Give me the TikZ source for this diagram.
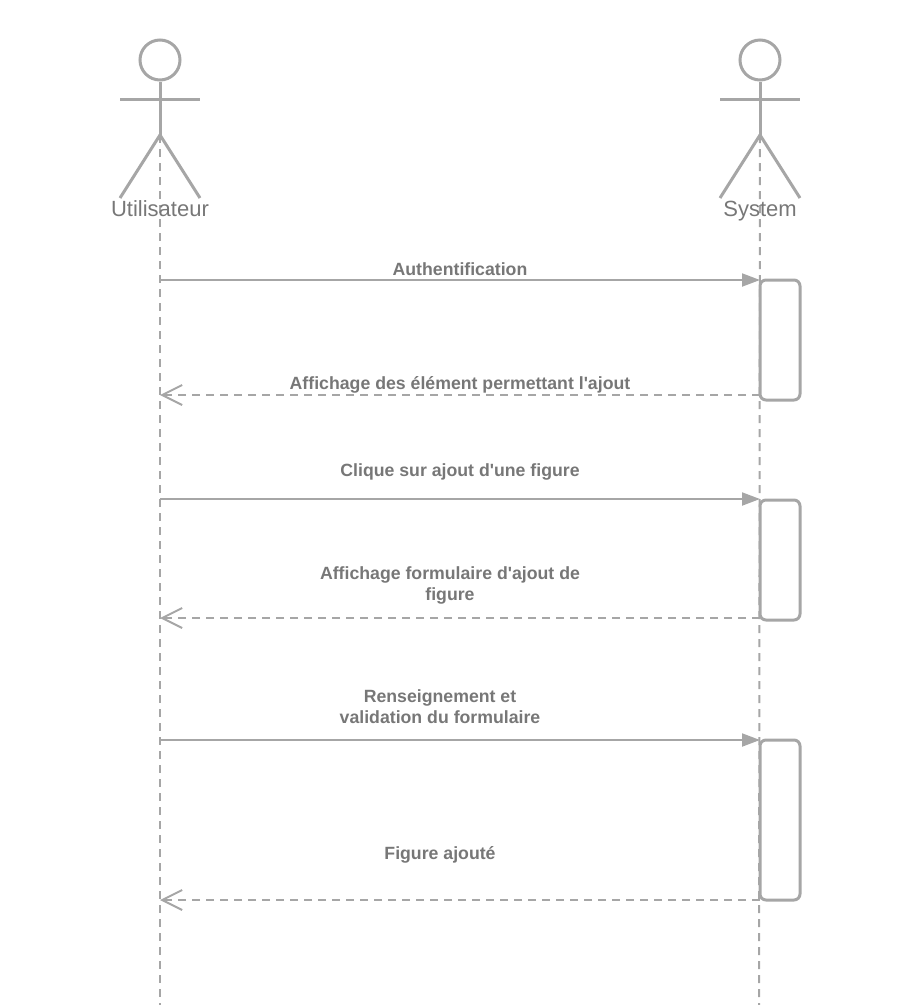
\documentclass[tikz,border=0pt]{standalone}
\usepackage{fontspec}
\setmainfont{Liberation Sans}
\newfontfamily\labfont[Ligatures=NoCommon]{Liberation Sans}
\usetikzlibrary{arrows.meta}
\definecolor{umlline}{HTML}{A6A6A6}
\definecolor{umltext}{HTML}{777777}
\tikzset{
  actorline/.style={draw=umlline,line width=3pt},
  lifeline/.style={draw=umlline,line width=2pt,dash pattern=on 8pt off 6pt},
  callmsg/.style={draw=umlline,line width=2pt,-{Triangle[length=18pt,width=13pt,fill=umlline]}},
  retmsg/.style={draw=umlline,line width=2pt,dash pattern=on 8pt off 6pt,-{Straight Barb[length=20pt,width=20pt,line width=2pt,sep=0pt]}},
  actbox/.style={draw=umlline,line width=3pt,rounded corners=6pt,minimum width=40pt,inner sep=0pt,fill=white},
  actorname/.style={text=umltext,font=\labfont\fontsize{22}{26}\selectfont,inner sep=0pt,anchor=base},
  msglabel/.style={text=umltext,font=\labfont\fontsize{17.7}{21}\selectfont\bfseries,align=center,inner sep=0pt},
  head/.style={circle,draw=umlline,line width=3pt,minimum size=40pt,inner sep=0pt}
}
\begin{document}
\begin{tikzpicture}[x=1pt,y=-1pt]
\useasboundingbox (0,0) rectangle (920,1005);
% lifelines
\coordinate (ltop) at (160,135);
\coordinate (lbot) at (160,1005);
\coordinate (rtop) at (760,135);
\coordinate (rbot) at (759,1005);
\draw[lifeline] (ltop) -- (lbot);
\draw[lifeline] (rtop) -- (rbot);
% actors
\node[head] (lhead) at (160,60) {};
\coordinate (larmL) at (120,99.5);
\coordinate (larmR) at (200,99.5);
\coordinate (lhip) at (160,135);
\coordinate (lfootL) at (120,198);
\coordinate (lfootR) at (200,198);
\draw[actorline] (lhead.south) -- (lhip);
\draw[actorline] (larmL) -- (larmR);
\draw[actorline] (lfootL) -- (lhip) -- (lfootR);
\node[head] (rhead) at (760,60) {};
\coordinate (rarmL) at (720,99.5);
\coordinate (rarmR) at (800,99.5);
\coordinate (rhip) at (760,135);
\coordinate (rfootL) at (720,198);
\coordinate (rfootR) at (800,198);
\draw[actorline] (rhead.south) -- (rhip);
\draw[actorline] (rarmL) -- (rarmR);
\draw[actorline] (rfootL) -- (rhip) -- (rfootR);
\node[actorname] (uname) at (160,216) {Utilisateur};
\node[actorname] (sname) at (760,216) {System};
% activation boxes
\node[actbox,minimum height=120pt] (box1) at (780,340) {};
\node[actbox,minimum height=120pt] (box2) at (780,560) {};
\node[actbox,minimum height=160pt] (box3) at (780,820) {};
% message ends
\coordinate (a1) at (160,280); \coordinate (b1) at (760,280);
\coordinate (a2) at (160,395); \coordinate (b2) at (760,395);
\coordinate (a3) at (160,499); \coordinate (b3) at (760,499);
\coordinate (a4) at (160,618); \coordinate (b4) at (760,618);
\coordinate (a5) at (160,740); \coordinate (b5) at (760,740);
\coordinate (a6) at (160,900); \coordinate (b6) at (760,900);
\draw[callmsg] (a1) -- (b1);
\draw[retmsg] (b2) -- (a2);
\draw[callmsg] (a3) -- (b3);
\draw[retmsg] (b4) -- (a4);
\draw[callmsg] (a5) -- (b5);
\draw[retmsg] (b6) -- (a6);
% labels
\node[msglabel] (m1) at (460,269) {Authentification};
\node[msglabel] (m2) at (460,385) {Affichage des élément permettant l'ajout};
\node[msglabel] (m3) at (460,472) {Clique sur ajout d'une figure};
\node[msglabel] (m4) at (450,585.5) {Affichage formulaire d'ajout de\\figure};
\node[msglabel] (m5) at (440,707) {Renseignement et\\validation du formulaire};
\node[msglabel] (m6) at (440,855) {Figure ajouté};
\end{tikzpicture}
\end{document}
